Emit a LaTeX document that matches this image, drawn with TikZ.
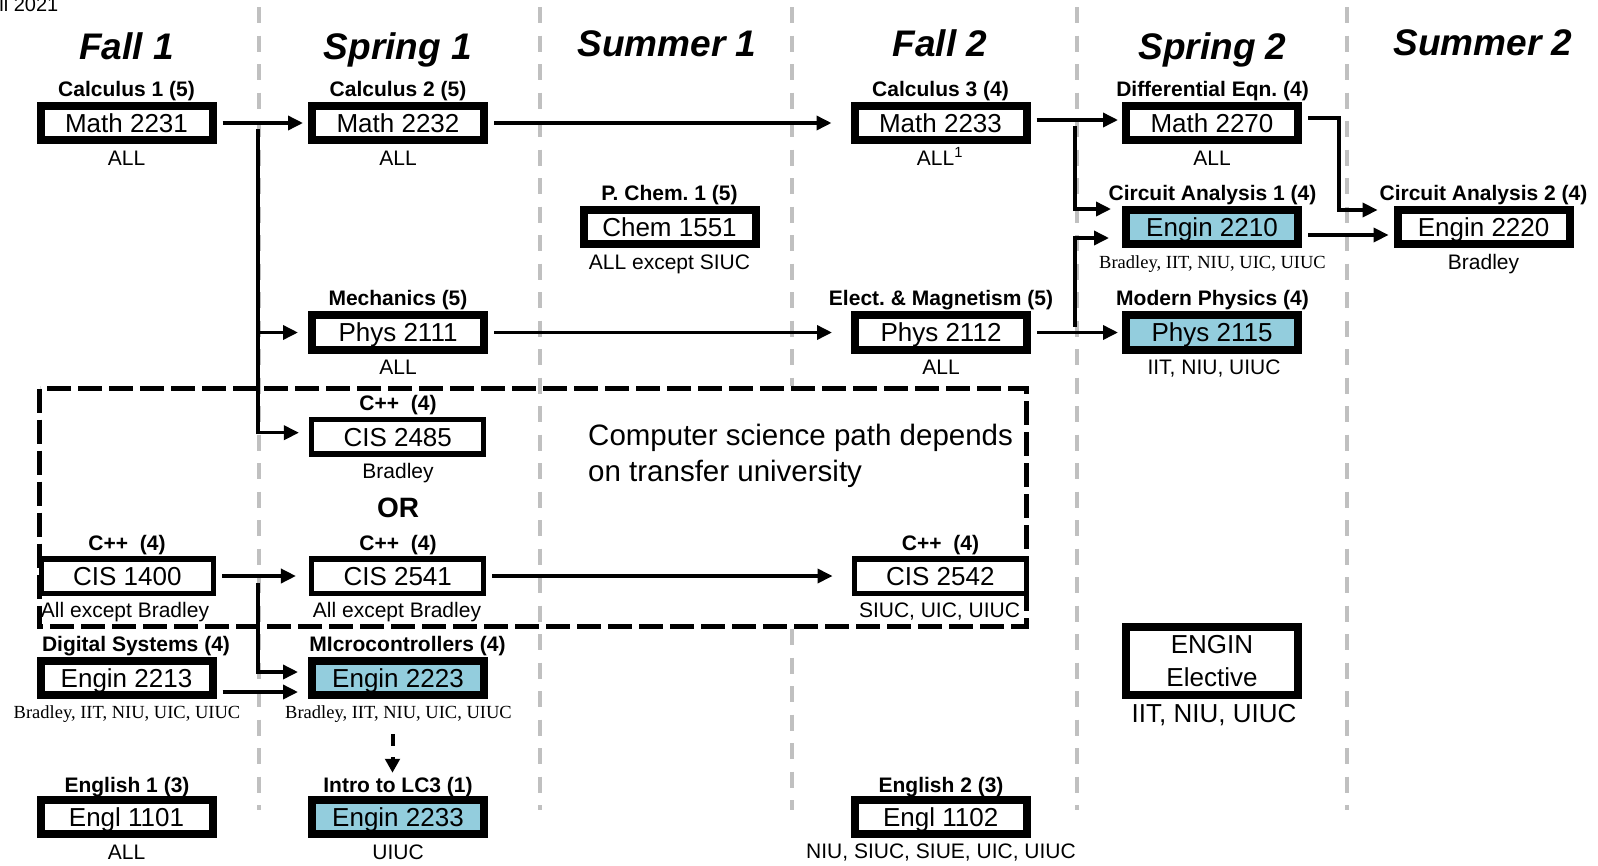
\documentclass[tikz,border=0pt]{standalone}
\usepackage{fontspec}
\setmainfont{Liberation Sans}
\newfontfamily\schoolserif{Liberation Serif}
\usetikzlibrary{arrows.meta,calc}
\frenchspacing

\definecolor{engblue}{RGB}{147,205,221}
\definecolor{sepgray}{RGB}{192,192,192}

\begin{document}
\begin{tikzpicture}[x=1pt, y=-1pt,
    box/.style={draw, line width=8pt, fill=white, minimum width=172pt, minimum height=34.5pt,
      inner sep=0pt, font=\fontsize{26}{33.3}\selectfont},
    course/.style={box, text height=18.7pt, text depth=0pt},
    cis/.style={course, line width=5.5pt},
    eng/.style={course, fill=engblue},
    semester/.style={anchor=base, font=\fontsize{37}{40}\selectfont\bfseries\itshape},
    cname/.style={anchor=base, font=\fontsize{21}{24}\selectfont\bfseries},
    school/.style={anchor=base, font=\fontsize{21}{24}\selectfont},
    schoolrm/.style={anchor=base, font=\schoolserif\fontsize{18.5}{22}\selectfont},
    note/.style={anchor=base west, inner sep=0pt, font=\fontsize{29.5}{36}\selectfont},
    link/.style={line width=3.5pt, -{Triangle[length=15pt,width=14pt]}, shorten <=6pt, shorten >=5pt},
    longlink/.style={link, shorten >=19pt},
    colsep/.style={sepgray, line width=3.5pt, dash pattern=on 16pt off 12.5pt},
    csbox/.style={line width=5pt, dash pattern=on 24pt off 7pt}]

    \useasboundingbox (0,0) rectangle (1598,865);

    % column separators
    \foreach \x in {259,540,1077,1347}
      \draw[colsep] (\x,7) -- (\x,810);
    \draw[colsep] (792,7) -- (792,386);
    \draw[colsep] (792,629) -- (792,810);

    % computer science box
    \draw[csbox] (39.6,388.5) rectangle (1026.6,626);
    \node[note] (cs1) at (588,445) {Computer science path depends};
    \node[note] (cs2) at (588,481.7) {on transfer university};

    % heading
    \node[anchor=base east, inner sep=0pt, font=\fontsize{20}{24}\selectfont] (term) at (58.5,11.7) {Fall 2021};
    \node[semester] (fall1) at (126.5,59) {Fall 1};
    \node[semester] (spring1) at (398,59) {Spring 1};
    \node[semester] (summer1) at (667,56) {Summer 1};
    \node[semester] (fall2) at (940,56) {Fall 2};
    \node[semester] (spring2) at (1212.5,59) {Spring 2};
    \node[semester] (summer2) at (1483,55.5) {Summer 2};

    % Fall 1
    \node[course] (m2231) at (126.5,123) {Math 2231};
    \node[cname] (m2231-n) at (126.5,96.5) {Calculus 1 (5)};
    \node[school] (m2231-s) at (126.5,165) {ALL};
    \node[cis] (cis1400) at (127.3,576) {CIS 1400};
    \node[cname] (cis1400-n) at (127,550) {C++\ \ (4)};
    \node[school] (cis1400-s) at (125,617) {All except Bradley};
    \node[course] (e2213) at (126.5,678) {Engin 2213};
    \node[cname] (e2213-n) at (136,651.7) {Digital Systems (4)};
    \node[schoolrm] (e2213-s) at (127,718.5) {Bradley, IIT, NIU, UIC, UIUC};
    \node[course] (engl1101) at (126.5,817) {Engl 1101};
    \node[cname] (engl1101-n) at (127,792.5) {English 1 (3)};
    \node[school] (engl1101-s) at (126.5,859) {ALL};

    % Spring 1
    \node[course] (m2232) at (398,123) {Math 2232};
    \node[cname] (m2232-n) at (398,96.5) {Calculus 2 (5)};
    \node[school] (m2232-s) at (398,165) {ALL};
    \node[course] (p2111) at (398,332.5) {Phys 2111};
    \node[cname] (p2111-n) at (398,305.5) {Mechanics (5)};
    \node[school] (p2111-s) at (398,374) {ALL};
    \node[cis] (cis2485) at (397.7,436.7) {CIS 2485};
    \node[cname] (cis2485-n) at (398,410) {C++\ \ (4)};
    \node[school] (cis2485-s) at (398,478) {Bradley};
    \node[anchor=base, font=\fontsize{28}{30}\selectfont\bfseries] (or) at (398,517.3) {OR};
    \node[cis] (cis2541) at (397.7,576) {CIS 2541};
    \node[cname] (cis2541-n) at (398,550) {C++\ \ (4)};
    \node[school] (cis2541-s) at (397,617) {All except Bradley};
    \node[eng] (e2223) at (398,678) {Engin 2223};
    \node[cname] (e2223-n) at (407.5,651.7) {MIcrocontrollers (4)};
    \node[schoolrm] (e2223-s) at (398.5,718.5) {Bradley, IIT, NIU, UIC, UIUC};
    \node[eng] (e2233) at (398,817) {Engin 2233};
    \node[cname] (e2233-n) at (398,792.5) {Intro to LC3 (1)};
    \node[school] (e2233-s) at (398,859) {UIUC};

    % Summer 1
    \node[course] (c1551) at (669.5,227) {Chem 1551};
    \node[cname] (c1551-n) at (669.5,200) {P. Chem. 1 (5)};
    \node[school] (c1551-s) at (669.5,269) {ALL except SIUC};

    % Fall 2
    \node[course] (m2233) at (940.5,123) {Math 2233};
    \node[cname] (m2233-n) at (940.5,96.5) {Calculus 3 (4)};
    \node[school] (m2233-s) at (940,165) {ALL\textsuperscript{1}};
    \node[course] (p2112) at (941,332.5) {Phys 2112};
    \node[cname] (p2112-n) at (941,305.5) {Elect. \& Magnetism (5)};
    \node[school] (p2112-s) at (941,374) {ALL};
    \node[cis] (cis2542) at (940.3,576) {CIS 2542};
    \node[cname] (cis2542-n) at (940.5,550) {C++\ \ (4)};
    \node[school] (cis2542-s) at (939.5,617) {SIUC, UIC, UIUC};
    \node[course] (engl1102) at (940.7,817) {Engl 1102};
    \node[cname] (engl1102-n) at (941,792) {English 2 (3)};
    \node[school] (engl1102-s) at (941,858) {NIU, SIUC, SIUE, UIC, UIUC};

    % Spring 2
    \node[course] (m2270) at (1212,123) {Math 2270};
    \node[cname] (m2270-n) at (1212.5,96.5) {Differential Eqn. (4)};
    \node[school] (m2270-s) at (1212,165) {ALL};
    \node[eng] (e2210) at (1212,227) {Engin 2210};
    \node[cname] (e2210-n) at (1212.5,200) {Circuit Analysis 1 (4)};
    \node[schoolrm] (e2210-s) at (1212.5,268.5) {Bradley, IIT, NIU, UIC, UIUC};
    \node[eng] (p2115) at (1212,332.5) {Phys 2115};
    \node[cname] (p2115-n) at (1212.5,305.5) {Modern Physics (4)};
    \node[school] (p2115-s) at (1214,374) {IIT, NIU, UIUC};
    \node[box, minimum height=68.6pt, align=center] (elective) at (1212,661) {ENGIN\\Elective};
    \node[anchor=base, font=\fontsize{26}{30}\selectfont] (elective-s) at (1214,722.5) {IIT, NIU, UIUC};

    % Summer 2
    \node[course] (e2220) at (1483.6,227) {Engin 2220};
    \node[cname] (e2220-n) at (1483.5,200) {Circuit Analysis 2 (4)};
    \node[school] (e2220-s) at (1483.5,269) {Bradley};

    % math and physics prerequisites
    \draw[link] (m2231) -- (m2232);
    \coordinate (j1) at (258,123);
    \draw[link, shorten >=10pt] (j1) |- (p2111);
    \draw[link, shorten >=10pt] (j1) |- ($(cis2485.west)+(0,-4)$);
    \draw[longlink] (m2232) -- (m2233);
    \draw[longlink] (p2111) -- (p2112);
    \draw[link, shorten >=4pt] ($(m2233.east)+(0,-3)$) -- ($(m2270.west)+(0,-3)$);
    \draw[link, shorten >=4pt] (p2112) -- (p2115);

    % circuit analysis
    \coordinate (j2) at (1075,120);
    \coordinate (j3) at (1075,332.5);
    \coordinate (ca1top) at ($(e2210.west)+(0,-18)$);
    \coordinate (ca1bot) at ($(e2210.west)+(0,11)$);
    \draw[link, shorten >=11pt] (j2) |- (ca1top);
    \draw[link, shorten >=13pt] (j3) |- (ca1bot);
    \draw[link] ($(e2210.east)+(0,8)$) -- ($(e2220.west)+(0,8)$);
    \coordinate (ca2top) at ($(e2220.west)+(0,-17)$);
    \coordinate (k1) at ($(ca2top)+(-54.6,0)$);
    \draw[link, shorten >=16pt] ($(m2270.east)+(0,-5)$) -| (k1) -- (ca2top);

    % programming and digital
    \draw[link, shorten >=13pt] (cis1400) -- (cis2541);
    \coordinate (j4) at (258,577);
    \draw[link, shorten >=10pt] (j4) |- ($(e2223.west)+(0,-6)$);
    \draw[link, shorten >=10pt] ($(e2213.east)+(0,14)$) -- ($(e2223.west)+(0,14)$);
    \draw[longlink] (cis2541) -- (cis2542);
    \draw[line width=4pt, dash pattern=on 12pt off 11pt, -{Triangle[length=14pt,width=14.5pt]},
      shorten <=35pt, shorten >=23pt] ($(e2223.south)+(-5.5,0)$) -- ($(e2233.north)+(-5.5,0)$);

\end{tikzpicture}
\end{document}
